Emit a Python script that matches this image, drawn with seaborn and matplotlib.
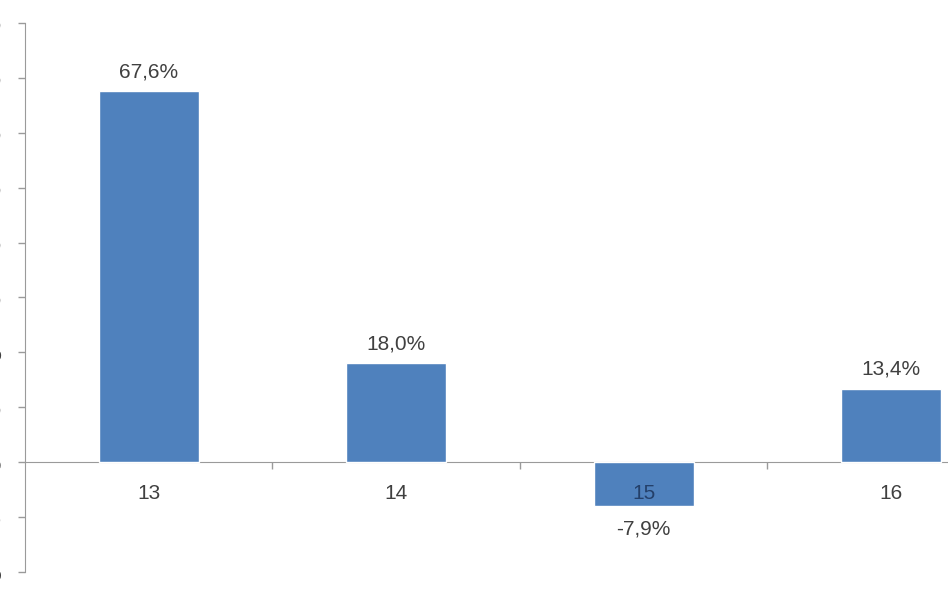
import matplotlib
matplotlib.use("Agg")
import matplotlib.pyplot as plt
import seaborn as sns
import pandas as pd

categories = ["13", "14", "15", "16"]
values = [67.6, 18.0, -7.9, 13.4]
value_labels = ["67,6%", "18,0%", "-7,9%", "13,4%"]
y_ticks = [-20, -10, 0, 10, 20, 30, 40, 50, 60, 70, 80]
y_tick_labels = ["-20%", "-10%", "0%", "10%", "20%", "30%", "40%", "50%", "60%", "70%", "80%"]

sns.set_style("white")
plt.rcParams["font.family"] = ["Liberation Sans", "DejaVu Sans"]

text_color = "#404040"
axis_color = "#9a9a9a"
bar_color = "#4f81bd"

fig = plt.figure(figsize=(9.48, 5.93), dpi=100)
ax = fig.add_axes([25 / 948, 1 - 572 / 593, 1 - 25 / 948, 549 / 593])

df = pd.DataFrame({"year": categories, "growth": values})
sns.barplot(data=df, x="year", y="growth", color=bar_color, width=0.405,
            saturation=1, ax=ax)

ax.set_ylim(-20, 80)
ax.set_xlim(-0.5, 3.23)
ax.set_xlabel("")
ax.set_ylabel("")
ax.set_axisbelow(False)  # so the "15" label sits on top of its bar

# y axis: labels fall mostly outside the picture, as in the cropped original
ax.set_yticks(y_ticks)
ax.set_yticklabels(y_tick_labels)
ax.tick_params(axis="y", direction="out", length=5, width=1, color=axis_color,
               pad=12, labelsize=15, labelcolor=text_color, left=True)

# x axis sits at zero, tick marks between categories
for s in ["top", "right"]:
    ax.spines[s].set_visible(False)
ax.spines["left"].set_color(axis_color)
ax.spines["bottom"].set_color(axis_color)
ax.spines["bottom"].set_position(("data", 0))
ax.spines["bottom"].set_zorder(0)
ax.set_xticks([0, 1, 2, 3])
ax.set_xticklabels(categories)
ax.set_xticks([0.5, 1.5, 2.5], minor=True)
ax.tick_params(axis="x", which="major", length=0, pad=16, labelsize=15,
               labelcolor=text_color)
ax.tick_params(axis="x", which="minor", direction="out", length=5, width=1,
               color=axis_color, bottom=True)
ax.get_xticklabels()[2].set_color("#24406a")

for i, (v, lab) in enumerate(zip(values, value_labels)):
    if v >= 0:
        ax.annotate(lab, (i, v), xytext=(0, 7), textcoords="offset points",
                    ha="center", va="bottom", fontsize=15, color=text_color)
    else:
        ax.annotate(lab, (i, v), xytext=(0, -10), textcoords="offset points",
                    ha="center", va="top", fontsize=15, color=text_color)

fig.savefig("out.png", dpi=100)
